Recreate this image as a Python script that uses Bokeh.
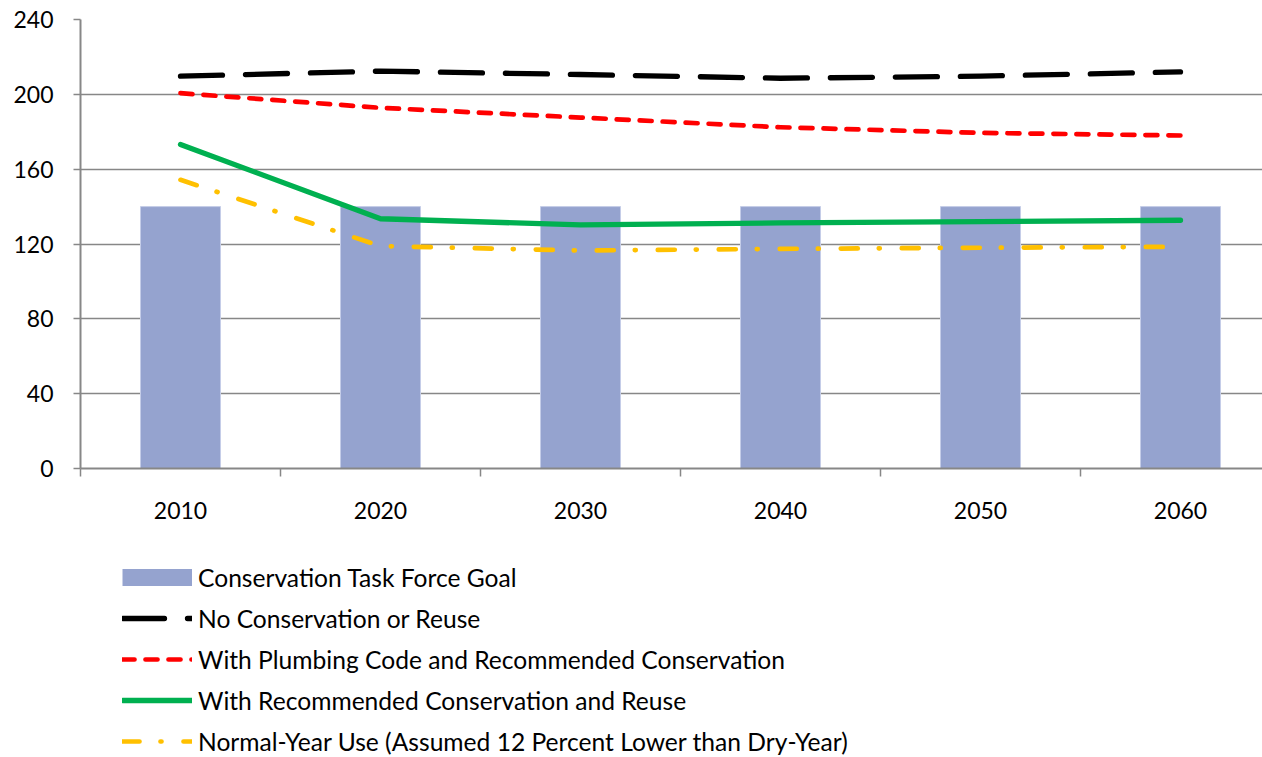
from bokeh.plotting import figure
from bokeh.layouts import column
from bokeh.models import Range1d, FixedTicker, Legend, LegendItem, ColumnDataSource
from bokeh.embed import file_html
from bokeh.resources import INLINE

years = [2010, 2020, 2030, 2040, 2050, 2060]
task_force_goal = [140, 140, 140, 140, 140, 140]
no_conservation = [209.7, 212.4, 210.6, 208.6, 209.7, 212.0]
plumbing_code = [200.6, 192.8, 187.6, 182.4, 179.4, 178.0]
conservation_reuse = [173.2, 133.5, 130.2, 131.3, 132.0, 132.7]
normal_year = [154.3, 118.9, 116.5, 117.4, 118.0, 118.5]
y_ticks = [0, 40, 80, 120, 160, 200, 240]
band_edges = [2005, 2015, 2025, 2035, 2045, 2055, 2065]

labels = [
    "Conservation Task Force Goal",
    "No Conservation or Reuse",
    "With Plumbing Code and Recommended Conservation",
    "With Recommended Conservation and Reuse",
    "Normal-Year Use (Assumed 12 Percent Lower than Dry-Year)",
]

FONT = "Lato"
GRAY = "#878787"
BAR = "#95A3CF"
styles = [
    dict(line_color="black", line_width=5.3, line_dash="42 23"),
    dict(line_color="#FF0000", line_width=4.7, line_dash="12 11"),
    dict(line_color="#00B050", line_width=5.3, line_dash="solid"),
    dict(line_color="#FFC000", line_width=4.7, line_dash="17 21 1 22"),
]

TOP_H = 540
p = figure(width=1262, height=TOP_H, output_backend="svg", toolbar_location=None,
           x_range=Range1d(2005, 2064.1), y_range=Range1d(0, 240),
           min_border_left=80, min_border_right=0, min_border_top=19,
           min_border_bottom=TOP_H - 19 - 449)
p.outline_line_color = None
p.background_fill_color = "white"
p.border_fill_color = "white"

src = ColumnDataSource(dict(x=years, goal=task_force_goal, nc=no_conservation,
                            pc=plumbing_code, cr=conservation_reuse, ny=normal_year))

p.vbar(x="x", top="goal", bottom=0, width=4, source=src,
       fill_color=BAR, line_color="#C5CDE8", line_width=1)
for col, st in zip(["nc", "pc", "cr", "ny"], styles):
    p.line(x="x", y=col, source=src, line_cap="round", line_join="round", **st)

p.xaxis.ticker = FixedTicker(ticks=years, minor_ticks=band_edges)
p.xaxis.major_tick_out = 0
p.xaxis.major_tick_in = 0
p.xaxis.minor_tick_out = 8
p.xaxis.minor_tick_in = 0
p.xaxis.minor_tick_line_color = GRAY
p.xaxis.minor_tick_line_width = 1.5
p.xaxis.major_label_standoff = 25

p.yaxis.ticker = FixedTicker(ticks=y_ticks, minor_ticks=[])
p.yaxis.major_tick_out = 7
p.yaxis.major_tick_in = 0
p.yaxis.major_tick_line_color = GRAY
p.yaxis.major_tick_line_width = 1.5
p.yaxis.major_label_standoff = 20

for ax in (p.xaxis, p.yaxis):
    ax.axis_line_color = GRAY
    ax.axis_line_width = 2
    ax.major_label_text_font = FONT
    ax.major_label_text_font_size = "23px"
    ax.major_label_text_color = "black"

p.xgrid.visible = False
p.ygrid.grid_line_color = GRAY
p.ygrid.grid_line_width = 1.5

# legend panel below the chart (swatch renderers hold no visible data)
LEG_H = 757 - TOP_H
q = figure(width=1262, height=LEG_H, output_backend="svg", toolbar_location=None,
           x_range=Range1d(0, 1), y_range=Range1d(0, 1),
           min_border=0, min_border_left=0, min_border_right=0,
           min_border_top=0, min_border_bottom=0)
q.axis.visible = False
q.grid.visible = False
q.outline_line_color = None
q.background_fill_color = "white"
q.border_fill_color = "white"

nan = float("nan")
swatches = [q.line(x=[nan, nan], y=[nan, nan], line_color=BAR, line_width=17, line_cap="butt")]
for st in styles:
    swatches.append(q.line(x=[nan, nan], y=[nan, nan], line_cap="round", line_join="round", **st))

legend = Legend(items=[LegendItem(label=l, renderers=[r]) for l, r in zip(labels, swatches)],
                location=(42, 1))
legend.padding = 0
legend.margin = 0
legend.spacing = 11
legend.glyph_width = 70
legend.glyph_height = 30
legend.label_height = 30
legend.label_standoff = 6
legend.label_text_font = FONT
legend.label_text_font_size = "24.6px"
legend.label_text_color = "black"
legend.background_fill_alpha = 0
legend.border_line_alpha = 0
legend.click_policy = "none"
q.add_layout(legend, "center")

layout = column(p, q, spacing=0)
open("out.html", "w").write(file_html(layout, INLINE))
